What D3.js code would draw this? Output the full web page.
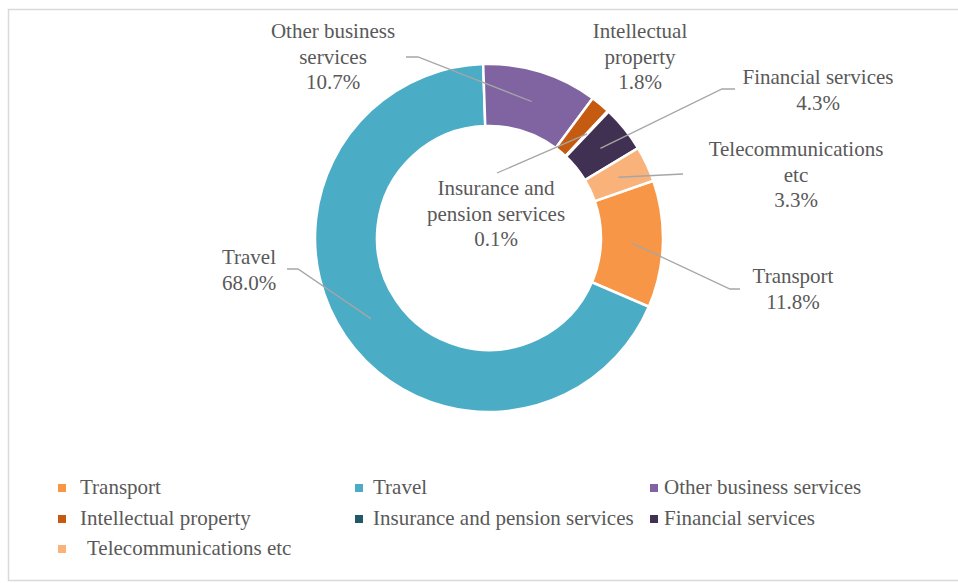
<!DOCTYPE html>
<html>
<head>
<meta charset="utf-8">
<script src="https://cdn.jsdelivr.net/npm/d3@7"></script>
<style>
  html, body { margin: 0; padding: 0; background: #fff; }
  svg { display: block; }
</style>
</head>
<body>
<svg id="chart" width="958" height="583"></svg>
<script>
// Composition of services (share of total, %)
const categories = ["Transport", "Travel", "Other business services", "Intellectual property",
  "Insurance and pension services", "Financial services", "Telecommunications etc"];
const shares = [11.8, 68.0, 10.7, 1.8, 0.1, 4.3, 3.3];
const colors = ["#F79646", "#4BACC6", "#8064A2", "#C55A11", "#215968", "#403152", "#F9B27A"];

// Data label text lines (category name split as shown on the chart)
const labelLines = [
  ["Transport"],
  ["Travel"],
  ["Other business", "services"],
  ["Intellectual", "property"],
  ["Insurance and", "pension services"],
  ["Financial services"],
  ["Telecommunications", "etc"]
];

const FONT = '"Liberation Serif", "Times New Roman", Times, serif';
const TEXT_COLOR = "#595959";

const svg = d3.select("#chart");

// chart area border
svg.append("rect")
  .attr("x", 8.5).attr("y", 9.5)
  .attr("width", 970).attr("height", 571)
  .attr("fill", "#fff").attr("stroke", "#d9d9d9").attr("stroke-width", 1.5);

const cx = 489, cy = 238, rOuter = 174, rInner = 112;
const deg = Math.PI / 180;
const start = 70.8 * deg;

const pie = d3.pie().sort(null).value(d => d.v)
  .startAngle(start).endAngle(start + 2 * Math.PI);
const data = categories.map((c, i) => ({ name: c, v: shares[i], color: colors[i], lines: labelLines[i] }));
const arcs = pie(data);

const arc = d3.arc().innerRadius(rInner).outerRadius(rOuter);
const mid = d3.arc().innerRadius((rInner + rOuter) / 2).outerRadius((rInner + rOuter) / 2);

const g = svg.append("g").attr("transform", `translate(${cx},${cy})`);
g.selectAll("path.slice").data(arcs).enter().append("path")
  .attr("class", "slice")
  .attr("d", arc)
  .attr("fill", d => d.data.color)
  .attr("stroke", "#fff").attr("stroke-width", 2.5)
  .attr("stroke-linejoin", "miter");

// Label placement: anchor x, first baseline y, leader elbow points (absolute)
const labelPos = {
  "Transport":                      { x: 793, y: 283, leader: [[740, 289], [730, 289]] },
  "Travel":                         { x: 249, y: 264, leader: [[287, 269], [298, 269]] },
  "Other business services":        { x: 333, y: 38,  leader: [[406, 57], [418, 57]] },
  "Intellectual property":          { x: 640, y: 38,  leader: null },
  "Insurance and pension services": { x: 496, y: 195, leader: [[497, 173]] },
  "Financial services":             { x: 818, y: 84,  leader: [[735, 89], [722, 89]] },
  "Telecommunications etc":         { x: 796, y: 156, leader: [[683, 174]] }
};
const lineH = 25.5;

// leader lines from label to the middle of the ring
const lineGen = d3.line();
arcs.forEach(a => {
  const p = labelPos[a.data.name];
  if (!p.leader) return;
  const c = mid.centroid(a);
  const pts = p.leader.concat([[c[0] + cx, c[1] + cy]]);
  svg.append("path")
    .attr("d", lineGen(pts))
    .attr("fill", "none").attr("stroke", "#A6A6A6").attr("stroke-width", 1.3);
});

// data labels: category + percentage
arcs.forEach(a => {
  const p = labelPos[a.data.name];
  const t = svg.append("text")
    .attr("text-anchor", "middle")
    .style("font-family", FONT)
    .style("font-size", "21px")
    .style("fill", TEXT_COLOR);
  const lines = a.data.lines.concat([d3.format(".1f")(a.data.v) + "%"]);
  lines.forEach((s, i) => {
    t.append("tspan").attr("x", p.x).attr("y", p.y + i * lineH).text(s);
  });
});

// legend: three columns, entries in series order
const legendMarkX = [58, 355, 650];
const legendTextX = [80, 373, 664];
const legendRows = [494, 525, 555];
const lg = svg.append("g");
data.forEach((d, i) => {
  const col = i % 3, row = Math.floor(i / 3);
  const y = legendRows[row];
  lg.append("rect")
    .attr("x", legendMarkX[col]).attr("y", y - 10)
    .attr("width", 8).attr("height", 8)
    .attr("fill", d.color);
  lg.append("text")
    .attr("x", legendTextX[col] + (d.name === "Telecommunications etc" ? 7 : 0))
    .attr("y", y)
    .style("font-family", FONT)
    .style("font-size", "21px")
    .style("fill", TEXT_COLOR)
    .text(d.name);
});
</script>
</body>
</html>
